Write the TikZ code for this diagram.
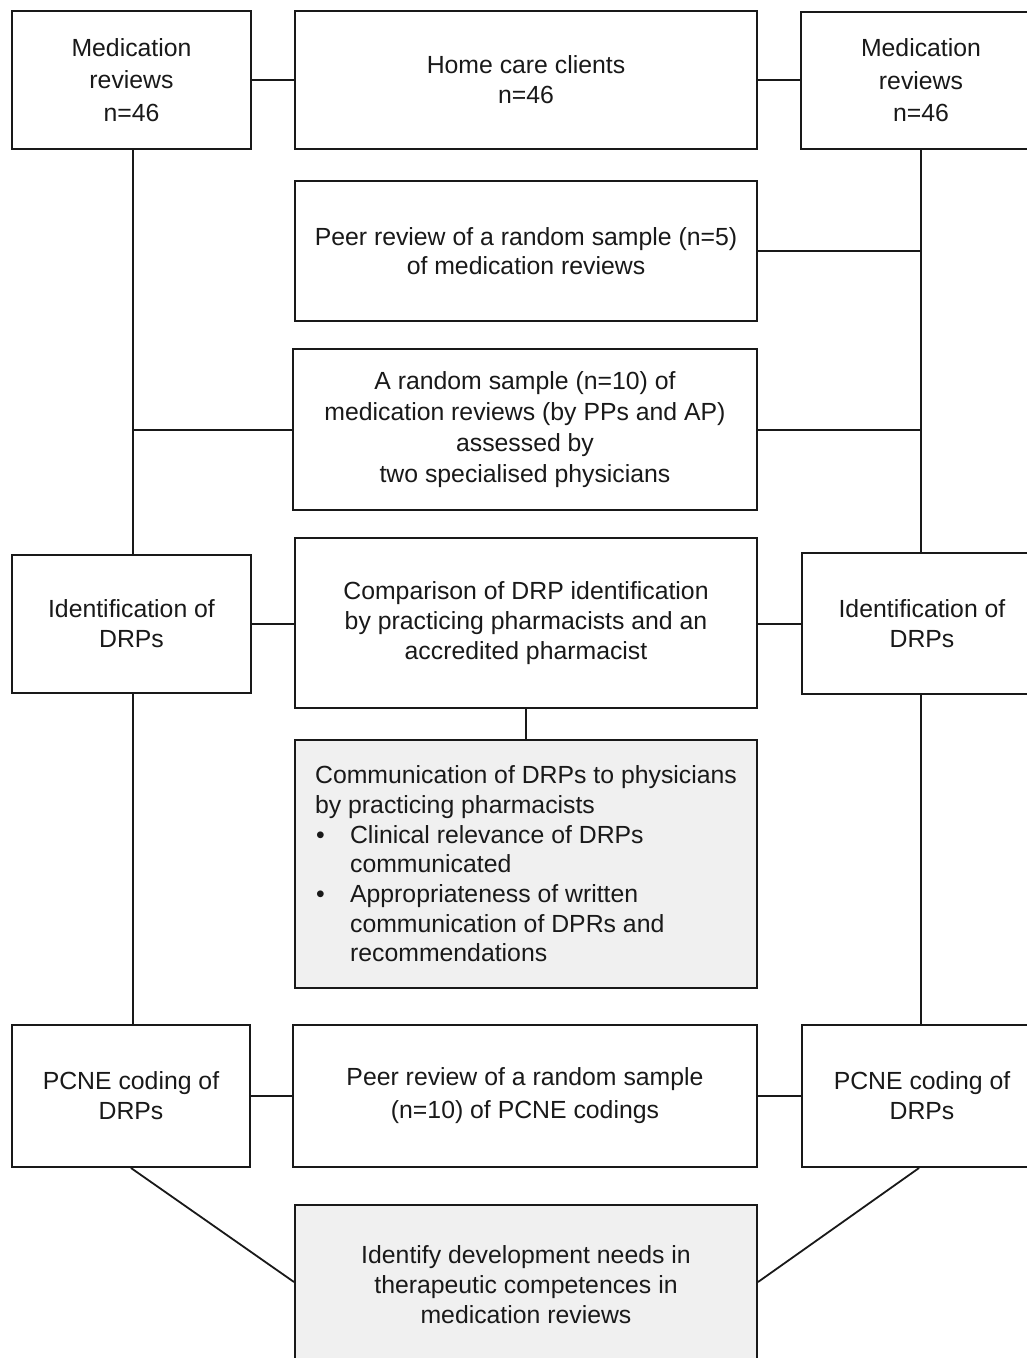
\documentclass[tikz,border=0pt]{standalone}
\usepackage{fontspec}
\setmainfont{Liberation Sans}
\begin{document}
\begin{tikzpicture}[x=1pt,y=-1pt,
  box/.style={draw=black!90, line width=2pt, align=center, inner sep=0pt, text=black!90,
    font=\fontsize{24.8}{31}\selectfont},
  shaded/.style={box, fill=black!6},
  conn/.style={draw=black!90, line width=2pt}]
\clip (0,0) rectangle (1027,1358);
\fill[white] (0,0) rectangle (1027,1358);
% row 1
\node[box, minimum width=239pt, minimum height=138pt, font=\fontsize{24.8}{32.5}\selectfont] (mrL) at (131.5,80) {Medication\\reviews\\n=46};
\node[box, minimum width=462pt, minimum height=138pt, font=\fontsize{24.8}{30}\selectfont] (hcc) at (526,80) {Home care clients\\n=46};
\node[box, minimum width=240pt, minimum height=137pt, font=\fontsize{24.8}{32.5}\selectfont] (mrR) at (921,80.5) {Medication\\reviews\\n=46};
% row 2
\node[box, minimum width=462pt, minimum height=140pt, font=\fontsize{24.8}{29.5}\selectfont] (peer1) at (526,251) {Peer review of a random sample (n=5)\\of medication reviews};
% row 3
\node[box, minimum width=464pt, minimum height=161pt] (rand) at (525,429.5) {A random sample (n=10) of\\medication reviews (by PPs and AP)\\assessed by\\two specialised physicians};
% row 4
\node[box, minimum width=239pt, minimum height=138pt, font=\fontsize{24.8}{30}\selectfont] (idL) at (131.5,624) {Identification of\\DRPs};
\node[box, minimum width=462pt, minimum height=170pt, font=\fontsize{24.8}{30}\selectfont] (comp) at (526,623) {Comparison of DRP identification\\by practicing pharmacists and an\\accredited pharmacist};
\node[box, minimum width=240pt, minimum height=141pt, font=\fontsize{24.8}{30.5}\selectfont] (idR) at (922,623.5) {Identification of\\DRPs};
% row 5
\node[shaded, minimum width=462pt, minimum height=248pt, align=left, font=\fontsize{24.8}{29.7}\selectfont] (comm) at (526,864) {Communication of DRPs to physicians\\by practicing pharmacists\\\makebox[35pt][l]{\hspace{1pt}•}Clinical relevance of DRPs\\\hspace*{35pt}communicated\\\makebox[35pt][l]{\hspace{1pt}•}Appropriateness of written\\\hspace*{35pt}communication of DPRs and\\\hspace*{35pt}recommendations};
% row 6
\node[box, minimum width=238pt, minimum height=142pt, font=\fontsize{24.8}{30}\selectfont] (pcL) at (131,1096) {PCNE coding of\\DRPs};
\node[box, minimum width=464pt, minimum height=142pt, font=\fontsize{24.8}{33}\selectfont] (peer2) at (525,1096) {Peer review of a random sample\\(n=10) of PCNE codings};
\node[box, minimum width=240pt, minimum height=142pt, font=\fontsize{24.8}{30}\selectfont] (pcR) at (922,1096) {PCNE coding of\\DRPs};
% row 7
\node[shaded, minimum width=462pt, minimum height=160pt, font=\fontsize{24.8}{30}\selectfont] (ident) at (526,1285) {Identify development needs in\\therapeutic competences in\\medication reviews};
% connectors
\coordinate (lx) at (133,0);
\coordinate (rx) at (921,0);
\draw[conn] (mrL.east |- hcc.west) -- (hcc.west);
\draw[conn] (hcc.east) -- (mrR.west |- hcc.east);
\draw[conn] (lx |- mrL.south) -- (lx |- idL.north);
\draw[conn] (lx |- idL.south) -- (lx |- pcL.north);
\draw[conn] (rx |- mrR.south) -- (rx |- idR.north);
\draw[conn] (rx |- idR.south) -- (rx |- pcR.north);
\draw[conn] (peer1.east) -- (rx |- peer1.east);
\draw[conn] (rand.west) -- (lx |- rand.west);
\draw[conn] (rand.east) -- (rx |- rand.east);
\draw[conn] (idL.east) -- (comp.west |- idL.east);
\draw[conn] (comp.east |- idR.west) -- (idR.west);
\draw[conn] (comp.south) -- (comm.north);
\draw[conn] (pcL.east) -- (peer2.west);
\draw[conn] (peer2.east) -- (pcR.west);
\coordinate (dl) at (295,1282);
\coordinate (dr) at (757,1282);
\draw[conn, line width=1.8pt] (131,1168) -- (ident.west |- dl);
\draw[conn, line width=1.8pt] (919,1168) -- (ident.east |- dr);
\end{tikzpicture}
\end{document}
